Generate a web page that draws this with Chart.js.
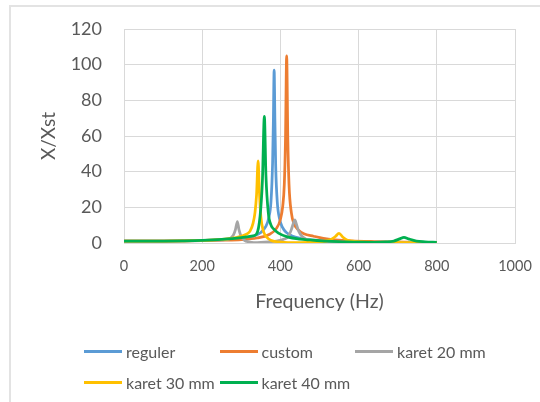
<!DOCTYPE html>
<html>
<head>
<meta charset="utf-8">
<script src="https://cdn.jsdelivr.net/npm/chart.js@4.4.1/dist/chart.umd.min.js"></script>
<style>
  html, body { margin: 0; padding: 0; background: #fff; }
  #wrap { position: relative; width: 540px; height: 402px; overflow: hidden; font-family: Lato, sans-serif; }
  #frame { position: absolute; left: 9px; top: 5px; width: 600px; height: 500px; border-left: 2px solid #e3e3e3; border-top: 2px solid #e3e3e3; }
  #chart1 { position: absolute; left: 0; top: 0; }
  #legend { position: absolute; left: 84px; top: 339px; display: grid; grid-template-columns: 135.5px 135.5px 135.5px; row-gap: 7px; }
  .item { display: flex; align-items: center; height: 24px; font-size: 16px; color: #595959; white-space: nowrap; }
  .swatch { width: 38px; height: 3px; margin-right: 4px; }
</style>
</head>
<body>
<div id="wrap">
  <div id="frame"></div>
  <canvas id="chart1" width="540" height="402"></canvas>
  <div id="legend"></div>
</div>
<script>
// frequency (Hz) and X/Xst amplitude for each configuration
const regulerHz  = [0, 50, 100, 150, 200, 250, 300, 330, 350, 362, 370, 376, 380, 382, 384, 386, 388, 392, 398, 405, 415, 430, 450, 480, 520, 580, 650, 720, 800];
const regulerVal = [1, 1.02, 1.07, 1.18, 1.37, 1.74, 2.56, 3.8, 5.9, 9, 13.9, 23.5, 44.7, 68, 97, 68, 43, 23, 13.4, 8.9, 5.95, 3.94, 2.68, 1.78, 1.2, 0.78, 0.54, 0.4, 0.3];

const customHz  = [0, 50, 100, 150, 200, 250, 300, 340, 370, 390, 400, 406, 410, 413, 416, 419, 422, 428, 435, 445, 460, 485, 510, 540, 580, 640, 720, 800];
const customVal = [1, 1.015, 1.06, 1.15, 1.3, 1.57, 1.9, 2.8, 4.6, 8.2, 13.2, 20.7, 33, 58, 105, 58, 33, 17, 10.7, 7.5, 5.2, 3.8, 2.6, 1.8, 1.2, 0.8, 0.5, 0.37];

const karet20Hz  = [0, 50, 100, 150, 200, 240, 260, 272, 280, 285, 290, 294, 300, 308, 320, 332, 350, 370, 390, 400, 410, 420, 428, 433, 437, 441, 447, 455, 467, 485, 510, 550, 620, 700, 800];
const karet20Val = [1, 1.02, 1.08, 1.2, 1.45, 1.75, 1.9, 2.6, 4.5, 7.5, 12, 7.5, 3.5, 1.5, 0.6, 0.2, 0.3, 0.6, 1.1, 1.5, 2.2, 3.5, 7.5, 11, 13, 10.5, 6.5, 3.8, 2, 1.2, 0.7, 0.5, 0.35, 0.25, 0.18];

const karet30Hz  = [0, 50, 100, 150, 200, 250, 290, 310, 322, 330, 335, 339, 343, 346, 350, 356, 365, 375, 395, 430, 470, 500, 525, 540, 550, 560, 570, 585, 620, 680, 740, 800];
const karet30Val = [1, 1.02, 1.08, 1.2, 1.45, 2, 3.2, 4.6, 6.5, 11, 17, 27, 46, 30, 15, 7, 3.3, 1.6, 0.6, 0.2, 0.3, 0.6, 1.6, 3.5, 5.4, 3.2, 1.7, 1, 0.5, 0.3, 0.25, 0.2];

const karet40Hz  = [0, 50, 100, 150, 200, 250, 300, 330, 339, 348, 354, 359, 363, 369, 376, 382, 395, 420, 450, 476, 520, 560, 600, 640, 670, 690, 705, 716, 728, 748, 770, 800];
const karet40Val = [1, 1.02, 1.08, 1.2, 1.45, 2, 3, 4, 5, 15, 35, 71, 38, 17, 10, 8, 5.5, 3.3, 2.2, 1.7, 1, 0.7, 0.45, 0.4, 0.6, 1.1, 2.3, 3.2, 2.3, 1.1, 0.7, 0.4];

const seriesNames  = ['reguler', 'custom', 'karet 20 mm', 'karet 30 mm', 'karet 40 mm'];
const seriesColors = ['#5b9bd5', '#ed7d31', '#a5a5a5', '#ffc000', '#00b050'];
const seriesHz  = [regulerHz, customHz, karet20Hz, karet30Hz, karet40Hz];
const seriesVal = [regulerVal, customVal, karet20Val, karet30Val, karet40Val];

const xTicks = [0, 200, 400, 600, 800, 1000];
const yTicks = [0, 20, 40, 60, 80, 100, 120];

const textColor = '#595959';
const gridColor = '#d9d9d9';

function points(hz, val) {
    return hz.map((f, i) => ({ x: f, y: val[i] }));
}

window.onload = function () {

    let chart1 = document.getElementById('chart1').getContext('2d');

    let datasets = seriesNames.map((name, i) => ({
        label: name,
        data: points(seriesHz[i], seriesVal[i]),
        borderColor: seriesColors[i],
        backgroundColor: seriesColors[i],
        borderWidth: 2.75,
        pointRadius: 0,
        showLine: true,
        fill: false,
        cubicInterpolationMode: 'monotone',
        // later series sit on top
        order: seriesNames.length - i
    }));

    let lineChart = new Chart(chart1, {
        type: 'scatter',
        data: { datasets: datasets },
        options: {
            responsive: false,
            animation: false,
            layout: { padding: { left: 0, top: 29, right: 25, bottom: 89 } },
            plugins: {
                legend: { display: false },
                tooltip: { enabled: false }
            },
            scales: {
                x: {
                    type: 'linear',
                    min: xTicks[0],
                    max: xTicks[xTicks.length - 1],
                    afterBuildTicks: s => { s.ticks = xTicks.map(v => ({ value: v })); },
                    ticks: {
                        color: textColor,
                        font: { family: 'Lato', size: 14.5 },
                        padding: 15,
                        maxRotation: 0,
                        callback: v => String(v)
                    },
                    grid: { color: gridColor, drawTicks: false },
                    border: { color: gridColor },
                    title: {
                        display: true,
                        text: 'Frequency (Hz)',
                        color: textColor,
                        font: { family: 'Lato', size: 19.5 },
                        padding: { top: 6, bottom: 0 }
                    },
                    // fixed band height; the plot edges come from layout padding only
                    afterFit: s => { s.height = 70; s.paddingLeft = 0; s.paddingRight = 0; }
                },
                y: {
                    min: yTicks[0],
                    max: yTicks[yTicks.length - 1],
                    afterBuildTicks: s => { s.ticks = yTicks.map(v => ({ value: v })); },
                    ticks: { color: textColor, font: { family: 'Lato', size: 18 }, padding: 22 },
                    grid: { color: gridColor, drawTicks: false },
                    border: { color: gridColor },
                    title: {
                        display: true,
                        text: 'X/Xst',
                        color: textColor,
                        font: { family: 'Lato', size: 19 },
                        padding: { top: 37, bottom: 0 }
                    },
                    afterFit: s => { s.width = 124; s.paddingTop = 0; s.paddingBottom = 0; }
                }
            }
        }
    });

    // legend laid out in fixed columns under the plot
    let legend = document.getElementById('legend');
    lineChart.data.datasets.forEach(ds => {
        let item = document.createElement('div');
        item.className = 'item';
        let swatch = document.createElement('span');
        swatch.className = 'swatch';
        swatch.style.background = ds.borderColor;
        let text = document.createElement('span');
        text.textContent = ds.label;
        item.appendChild(swatch);
        item.appendChild(text);
        legend.appendChild(item);
    });
}
</script>
</body>
</html>
